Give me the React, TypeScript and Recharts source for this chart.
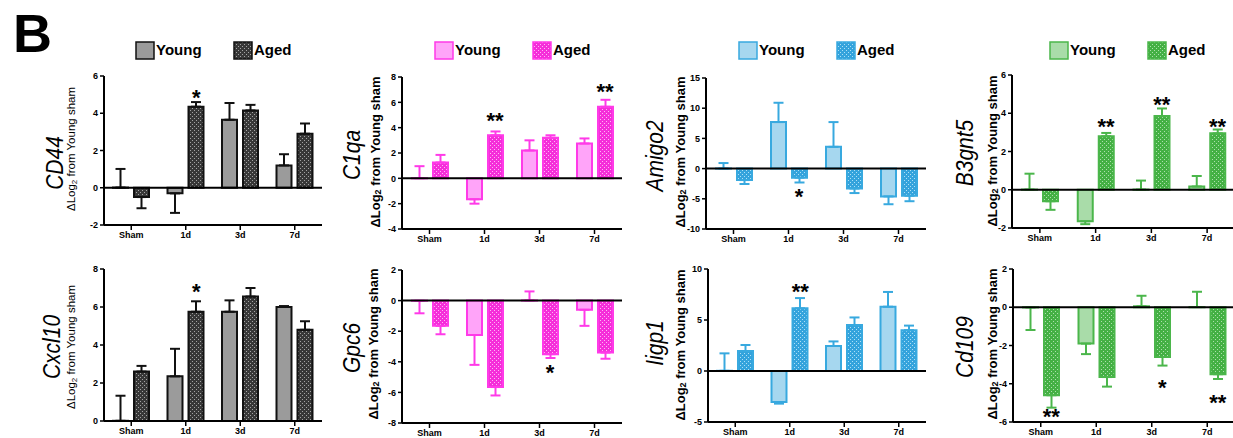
import * as React from "react"
import { BarChart, Bar, XAxis, YAxis, ErrorBar, ReferenceLine, ReferenceDot } from "recharts"

const FONT = "'Liberation Sans', Arial, Helvetica, sans-serif"

const categories = ["Sham", "1d", "3d", "7d"]

// signed errors: positive = drawn upwards, negative = drawn downwards
// young sham is the reference group, read as ~0 (kept just off zero so its error bar is drawn)
const cd44Young = [0.01, -0.3, 3.65, 1.2]
const cd44YoungErr = [1.0, -1.05, 0.9, 0.6]
const cd44Aged = [-0.5, 4.35, 4.15, 2.9]
const cd44AgedErr = [-0.6, 0.25, 0.3, 0.55]
const cd44Stars = ["", "*", "", ""]
const cd44StarY = [0, 5.1, 0, 0]

const c1qaYoung = [0.01, -1.65, 2.2, 2.75]
const c1qaYoungErr = [0.95, -0.35, 0.8, 0.4]
const c1qaAged = [1.25, 3.4, 3.2, 5.65]
const c1qaAgedErr = [0.6, 0.3, 0.2, 0.55]
const c1qaStars = ["", "**", "", "**"]
const c1qaStarY = [0, 4.9, 0, 7.2]

const amigo2Young = [0.02, 7.7, 3.6, -4.6]
const amigo2YoungErr = [0.9, 3.2, 4.1, -1.3]
const amigo2Aged = [-1.9, -1.5, -3.3, -4.5]
const amigo2AgedErr = [-0.65, -0.8, -0.75, -0.9]
const amigo2Stars = ["", "*", "", ""]
const amigo2StarY = [0, -3.85, 0, 0]

const b3gnt5Young = [0.01, -1.65, 0.01, 0.17]
const b3gnt5YoungErr = [0.83, -0.15, 0.47, 0.55]
const b3gnt5Aged = [-0.6, 2.8, 3.85, 2.95]
const b3gnt5AgedErr = [-0.45, 0.17, 0.4, 0.2]
const b3gnt5Stars = ["", "**", "**", "**"]
const b3gnt5StarY = [0, 3.55, 4.7, 3.55]

const cxcl10Young = [0.01, 2.35, 5.75, 6.0]
const cxcl10YoungErr = [1.32, 1.45, 0.6, 0.05]
const cxcl10Aged = [2.6, 5.75, 6.55, 4.8]
const cxcl10AgedErr = [0.3, 0.55, 0.45, 0.45]
const cxcl10Stars = ["", "*", "", ""]
const cxcl10StarY = [0, 7.05, 0, 0]

const gpc6Young = [-0.01, -2.25, 0.01, -0.6]
const gpc6YoungErr = [-0.82, -1.95, 0.59, -1.05]
const gpc6Aged = [-1.65, -5.65, -3.5, -3.4]
const gpc6AgedErr = [-0.55, -0.55, -0.25, -0.4]
const gpc6Stars = ["", "", "*", ""]
const gpc6StarY = [0, 0, -4.4, 0]

const iigp1Young = [0.02, -3.05, 2.45, 6.3]
const iigp1YoungErr = [1.71, -0.15, 0.45, 1.45]
const iigp1Aged = [1.95, 6.15, 4.5, 4.0]
const iigp1AgedErr = [0.6, 1.0, 0.75, 0.45]
const iigp1Stars = ["", "**", "", ""]
const iigp1StarY = [0, 8.2, 0, 0]

const cd109Young = [-0.01, -1.9, 0.05, 0.01]
const cd109YoungErr = [-1.18, -0.55, 0.55, 0.8]
const cd109Aged = [-4.6, -3.65, -2.6, -3.5]
const cd109AgedErr = [-0.65, -0.5, -0.45, -0.25]
const cd109Stars = ["**", "", "*", "**"]
const cd109StarY = [-5.5, 0, -3.95, -4.75]

type Theme = {
  youngFill: string
  stroke: string
  agedFill: string
  base: string
  dot: string
  id: string
}

const gray: Theme = { youngFill: "#9b9b9b", stroke: "#111111", agedFill: "url(#agedGray)", base: "#383838", dot: "#a4a4a4", id: "agedGray" }
const pink: Theme = { youngFill: "#ffa4f9", stroke: "#ff3ae8", agedFill: "url(#agedPink)", base: "#f52ed9", dot: "#ffb4f6", id: "agedPink" }
const blue: Theme = { youngFill: "#a6d7ef", stroke: "#38a9df", agedFill: "url(#agedBlue)", base: "#34a3dc", dot: "#ace0f7", id: "agedBlue" }
const green: Theme = { youngFill: "#a9dca9", stroke: "#4bb64b", agedFill: "url(#agedGreen)", base: "#44b044", dot: "#ace0ac", id: "agedGreen" }

type Panel = {
  young: number[]
  youngErr: number[]
  aged: number[]
  agedErr: number[]
  stars: string[]
  starY: number[]
  domain: [number, number]
  ticks: number[]
  theme: Theme
  left: number
  right: number
  top: number
  bottom: number
}

const panels: Panel[] = [
  { young: cd44Young, youngErr: cd44YoungErr, aged: cd44Aged, agedErr: cd44AgedErr, stars: cd44Stars, starY: cd44StarY,
    domain: [-2, 6], ticks: [-2, 0, 2, 4, 6], theme: gray, left: 104, right: 322, top: 76, bottom: 225 },
  { young: c1qaYoung, youngErr: c1qaYoungErr, aged: c1qaAged, agedErr: c1qaAgedErr, stars: c1qaStars, starY: c1qaStarY,
    domain: [-4, 8], ticks: [-4, -2, 0, 2, 4, 6, 8], theme: pink, left: 402, right: 622, top: 77, bottom: 229 },
  { young: amigo2Young, youngErr: amigo2YoungErr, aged: amigo2Aged, agedErr: amigo2AgedErr, stars: amigo2Stars, starY: amigo2StarY,
    domain: [-10, 15], ticks: [-10, -5, 0, 5, 10, 15], theme: blue, left: 706, right: 926, top: 78, bottom: 229 },
  { young: b3gnt5Young, youngErr: b3gnt5YoungErr, aged: b3gnt5Aged, agedErr: b3gnt5AgedErr, stars: b3gnt5Stars, starY: b3gnt5StarY,
    domain: [-2, 6], ticks: [-2, 0, 2, 4, 6], theme: green, left: 1012, right: 1235, top: 75, bottom: 228 },
  { young: cxcl10Young, youngErr: cxcl10YoungErr, aged: cxcl10Aged, agedErr: cxcl10AgedErr, stars: cxcl10Stars, starY: cxcl10StarY,
    domain: [0, 8], ticks: [0, 2, 4, 6, 8], theme: gray, left: 104, right: 322, top: 269, bottom: 421 },
  { young: gpc6Young, youngErr: gpc6YoungErr, aged: gpc6Aged, agedErr: gpc6AgedErr, stars: gpc6Stars, starY: gpc6StarY,
    domain: [-8, 2], ticks: [-8, -6, -4, -2, 0, 2], theme: pink, left: 402, right: 622, top: 270, bottom: 423 },
  { young: iigp1Young, youngErr: iigp1YoungErr, aged: iigp1Aged, agedErr: iigp1AgedErr, stars: iigp1Stars, starY: iigp1StarY,
    domain: [-5, 10], ticks: [-5, 0, 5, 10], theme: blue, left: 708, right: 926, top: 269, bottom: 422 },
  { young: cd109Young, youngErr: cd109YoungErr, aged: cd109Aged, agedErr: cd109AgedErr, stars: cd109Stars, starY: cd109StarY,
    domain: [-6, 2], ticks: [-6, -4, -2, 0, 2], theme: green, left: 1013, right: 1235, top: 269, bottom: 422 },
]

const geneLabels = [
  { text: "CD44", x: 55, y: 163, subX: 71, subY: 149, small: true },
  { text: "C1qa", x: 352, y: 155, subX: 375, subY: 152, small: false },
  { text: "Amigo2", x: 655, y: 156, subX: 680, subY: 152, small: false },
  { text: "B3gnt5", x: 965, y: 153, subX: 992, subY: 151, small: false },
  { text: "Cxcl10", x: 52, y: 347, subX: 71, subY: 347, small: true },
  { text: "Gpc6", x: 352, y: 348, subX: 373, subY: 344, small: false },
  { text: "Iigp1", x: 655, y: 343, subX: 680, subY: 345, small: false },
  { text: "Cd109", x: 965, y: 347, subX: 992, subY: 344, small: false },
]

const legends = [
  { x: 136, theme: gray },
  { x: 435, theme: pink },
  { x: 739, theme: blue },
  { x: 1050, theme: green },
]

const toRange = (e: number) => (e >= 0 ? [0, e] : [-e, 0])

const BAR_SHIFT = 10.5

const starShape = (text: string) => (p: any) => (
  <text x={p.cx + BAR_SHIFT} y={p.cy + 12} textAnchor="middle" fontSize={22} fontWeight="bold" fontFamily={FONT} fill="#000">
    {text}
  </text>
)

const GenePanel = ({ p }: { p: Panel }) => {
  const data = categories.map((cat, i) => ({
    cat,
    young: p.young[i],
    youngErr: toRange(p.youngErr[i]),
    aged: p.aged[i],
    agedErr: toRange(p.agedErr[i]),
  }))
  const w = p.right - p.left + 30
  const h = p.bottom - p.top + 35
  const tickStyle = { fontSize: 9, fontWeight: "bold", fill: "#000", fontFamily: FONT }
  return (
    <div style={{ position: "absolute", left: p.left - 30, top: p.top - 10 }}>
      <BarChart width={w} height={h} data={data} margin={{ top: 10, right: 0, left: 0, bottom: 0 }} barGap={6}>
        <XAxis dataKey="cat" interval={0} height={25} tickSize={5} tickMargin={2}
          axisLine={{ stroke: "#000", strokeWidth: 2 }} tickLine={{ stroke: "#000", strokeWidth: 1.5 }} tick={tickStyle} />
        <YAxis type="number" domain={p.domain} ticks={p.ticks} allowDataOverflow width={30} tickSize={4} tickMargin={2}
          axisLine={{ stroke: "#000", strokeWidth: 2 }} tickLine={{ stroke: "#000", strokeWidth: 1.5 }} tick={tickStyle} />
        <Bar dataKey="young" fill={p.theme.youngFill} stroke={p.theme.stroke} strokeWidth={2} barSize={15} isAnimationActive={false}>
          <ErrorBar dataKey="youngErr" width={5} stroke={p.theme.stroke} strokeWidth={2} />
        </Bar>
        <Bar dataKey="aged" fill={p.theme.agedFill} stroke={p.theme.stroke} strokeWidth={2} barSize={15} isAnimationActive={false}>
          <ErrorBar dataKey="agedErr" width={5} stroke={p.theme.stroke} strokeWidth={2} />
        </Bar>
        <ReferenceLine y={0} stroke="#000" strokeWidth={2} />
        {categories.map((cat, i) =>
          p.stars[i] ? <ReferenceDot key={cat} x={cat} y={p.starY[i]} r={0} shape={starShape(p.stars[i])} /> : null
        )}
      </BarChart>
    </div>
  )
}

const Overlay = () => (
  <svg width={1233} height={438} style={{ position: "absolute", left: 0, top: 0 }}>
    <defs>
      {[gray, pink, blue, green].map((t) => (
        <pattern key={t.id} id={t.id} width={4} height={4} patternUnits="userSpaceOnUse">
          <rect width={4} height={4} fill={t.base} />
          <rect width={1} height={1} fill={t.dot} />
          <rect x={2} y={2} width={1} height={1} fill={t.dot} />
        </pattern>
      ))}
    </defs>
    <text x={13} y={52} fontSize={54} fontWeight="bold" fontFamily={FONT} fill="#000">B</text>
    {legends.map((l) => (
      <g key={l.x} fontFamily={FONT} fontWeight="bold" fontSize={15} fill="#000">
        <rect x={l.x} y={42} width={18} height={17} fill={l.theme.youngFill} stroke={l.theme.stroke} strokeWidth={1.5} />
        <text x={l.x + 20} y={55}>Young</text>
        <rect x={l.x + 98} y={42} width={18} height={17} fill={l.theme.agedFill} stroke={l.theme.stroke} strokeWidth={1.5} />
        <text x={l.x + 118} y={55}>Aged</text>
      </g>
    ))}
    {geneLabels.map((g) => (
      <g key={g.text} fontFamily={FONT} fill="#000">
        <text x={0} y={0} transform={`translate(${g.x} ${g.y}) rotate(-90) scale(1 1.15)`} textAnchor="middle" dominantBaseline="central"
          fontSize={21} fontStyle="italic">{g.text}</text>
        <text x={g.subX} y={g.subY} transform={`rotate(-90 ${g.subX} ${g.subY})`} textAnchor="middle" dominantBaseline="central"
          fontSize={g.small ? 11.5 : 13} fontWeight={g.small ? "normal" : "bold"}>
          ΔLog<tspan dy={3} fontSize={g.small ? 8 : 9}>2</tspan><tspan dy={-3}> from Young sham</tspan>
        </text>
      </g>
    ))}
  </svg>
)

export default function App() {
  return (
    <div style={{ position: "absolute", left: 0, top: 0, width: 1233, height: 438, overflow: "hidden", background: "#fff" }}>
      <Overlay />
      {panels.map((p, i) => (
        <GenePanel key={i} p={p} />
      ))}
    </div>
  )
}
